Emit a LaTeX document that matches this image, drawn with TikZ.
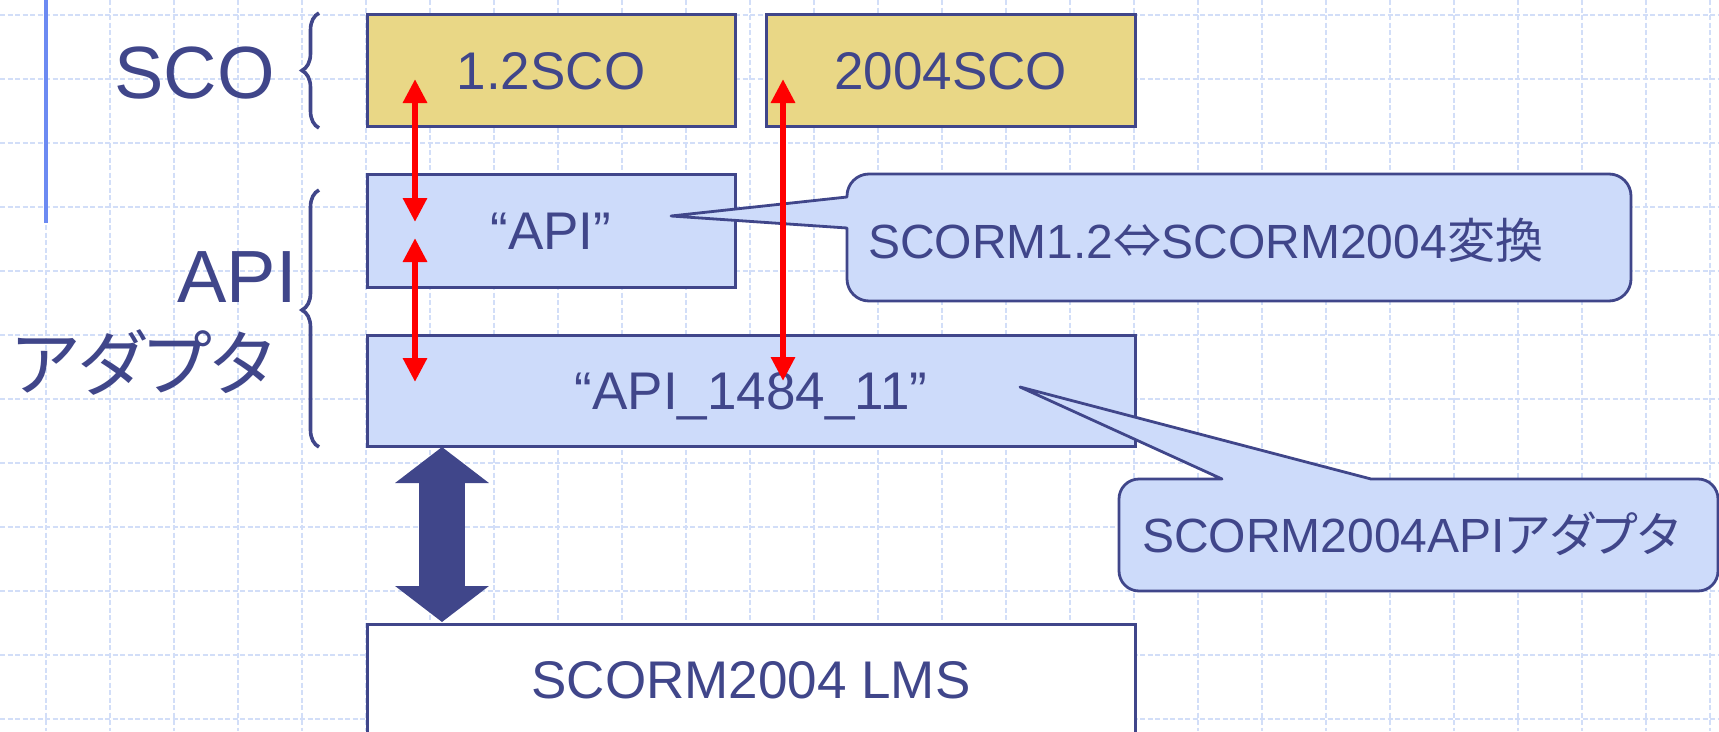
\documentclass[tikz,border=0pt]{standalone}
\usepackage{fontspec}
\setmainfont{Liberation Sans}
\newfontfamily\jfont[RawFeature={+palt}]{Noto Sans CJK JP}
\usetikzlibrary{arrows.meta,decorations.pathreplacing}

\definecolor{inkblue}{RGB}{64,70,138}
\definecolor{paleblue}{RGB}{205,219,250}
\definecolor{sand}{RGB}{233,215,134}
\definecolor{gridblue}{RGB}{210,222,248}
\definecolor{ruleblue}{RGB}{108,138,242}

\tikzset{
  gridline/.style={gridblue, line width=1.9pt, dash pattern=on 5pt off 2.5pt},
  layerbox/.style={draw=inkblue, line width=3pt, inner sep=0pt, text=inkblue,
    font=\fontsize{53}{60}\selectfont, text height=38pt, text depth=0pt},
  biglabel/.style={inner sep=0pt, text=inkblue, font=\fontsize{74}{80}\selectfont},
  calltext/.style={inner sep=0pt, text=inkblue, font=\fontsize{48}{56}\selectfont},
  callshape/.style={draw=inkblue, fill=paleblue, line width=2.8pt, line join=round},
  bracket/.style={draw=inkblue, line width=3.6pt, decorate},
  redarrow/.style={draw=red, line width=6pt,
    {Triangle[width=23pt,length=24pt]}-{Triangle[width=23pt,length=24pt]}},
  fatarrow/.style={draw=inkblue, line width=46pt,
    {Triangle[width=92pt,length=36pt]}-{Triangle[width=92pt,length=36pt]}}
}

\begin{document}
\begin{tikzpicture}[x=1pt,y=-1pt]
  % page frame and background
  \path[use as bounding box, fill=white] (0,0) rectangle (1719,731);
  \clip (0,0) rectangle (1719,731);

  % dashed background grid
  \foreach \gx in {46,110,...,1710} \draw[gridline] (\gx,0) -- (\gx,731);
  \foreach \gy in {15,79,...,719} \draw[gridline] (0,\gy) -- (1719,\gy);
  \draw[ruleblue, line width=3.4pt] (46,0) -- (46,223);

  % layer boxes
  \node[layerbox, fill=sand, minimum width=368pt, minimum height=112pt] (sco12) at (551,70) {1.2SCO};
  \node[layerbox, fill=sand, minimum width=369pt, minimum height=112pt] (sco04) at (950.5,70) {2004SCO};
  \node[layerbox, fill=paleblue, minimum width=368pt, minimum height=113pt] (api) at (551,230.5) {“API”};
  \node[layerbox, fill=paleblue, minimum width=768pt, minimum height=111pt] (api1484) at (751,390.5) {“API\_1484\_11”};
  \node[layerbox, fill=white, minimum width=768pt, minimum height=110pt] (lms) at (751,679) {SCORM2004 LMS};

  % group labels with braces
  \node[biglabel, anchor=base east] (scolbl) at (275,98) {SCO};
  \node[biglabel, anchor=base east] (apilbl) at (297,302) {API};
  \node[biglabel, anchor=east, font=\jfont\fontsize{72}{80}\selectfont] (adaptlbl) at (274,362) {アダプタ};
  \draw[bracket, decoration={brace, amplitude=17pt, aspect=0.5}] (319,128) -- (319,13);
  \draw[bracket, decoration={brace, amplitude=17pt, aspect=0.533}] (319,447) -- (319,190);

  % callout: conversion
  \draw[callshape] (847,228) -- (847,279) arc[start angle=180, end angle=270, radius=22pt]
    -- (1609,301) arc[start angle=270, end angle=360, radius=22pt]
    -- (1631,196) arc[start angle=0, end angle=90, radius=22pt]
    -- (869,174) arc[start angle=90, end angle=180, radius=22pt]
    -- (847,197) -- (671,216) -- cycle;
  \node[calltext, anchor=base west] (conv) at (868,258) {SCORM1.2{\jfont ⇔}SCORM2004{\jfont 変換}};

  % callout: adapter
  \draw[callshape] (1371,479) -- (1698,479) arc[start angle=90, end angle=0, radius=20pt]
    -- (1718,571) arc[start angle=0, end angle=-90, radius=20pt]
    -- (1139,591) arc[start angle=270, end angle=180, radius=20pt]
    -- (1119,499) arc[start angle=180, end angle=90, radius=20pt]
    -- (1222,479) -- (1020,387) -- cycle;
  \node[calltext, anchor=base west] (adapt) at (1142,552) {SCORM2004API{\jfont アダプタ}};

  % call paths between layers
  \coordinate (r1s) at (415,79);
  \coordinate (r1e) at (415,222);
  \coordinate (r2s) at (415,238);
  \coordinate (r2e) at (415,382);
  \coordinate (r3s) at (783,79);
  \coordinate (r3e) at (783,381);
  \draw[redarrow] (r1s) -- (r1e);
  \draw[redarrow] (r2s) -- (r2e);
  \draw[redarrow] (r3s) -- (r3e);

  % adapter <-> LMS link
  \coordinate (b1) at (442,447);
  \coordinate (b2) at (442,622);
  \draw[fatarrow] (b1) -- (b2);
\end{tikzpicture}
\end{document}
